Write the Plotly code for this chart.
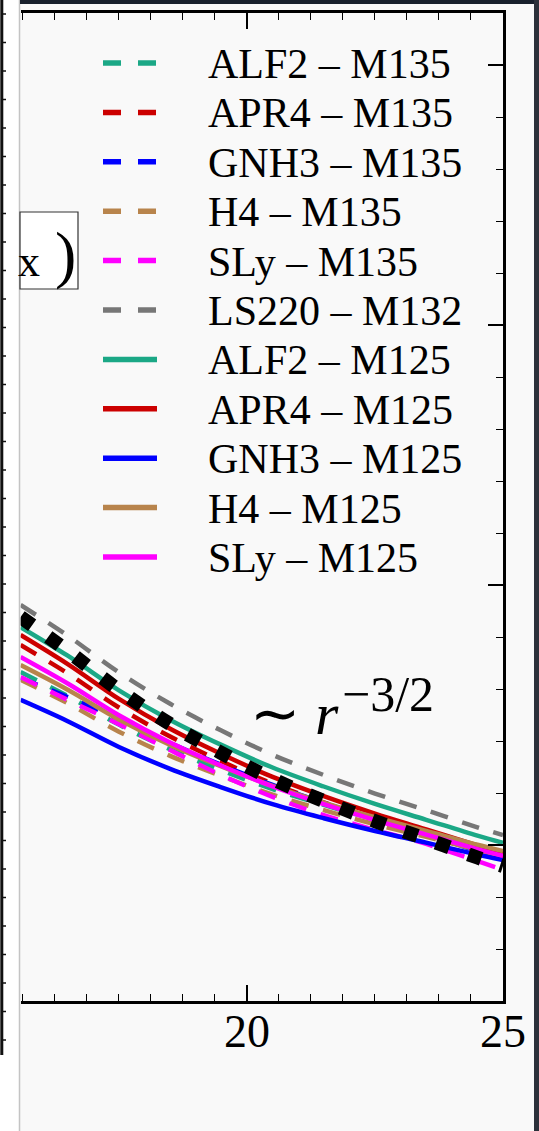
import plotly.graph_objects as go

W, H = 539, 1131

# radius samples (x axis)
r = [15.58, 16.5, 17.5, 18.5, 19.5, 20.5, 21.5, 22.5, 23.5, 24.5, 25.0]

# M135 (dashed) runs
alf2_m135 = [1.665, 1.573, 1.463, 1.368, 1.287, 1.215, 1.154, 1.098, 1.048, 0.997, 0.973]
apr4_m135 = [1.769, 1.660, 1.529, 1.417, 1.322, 1.236, 1.164, 1.098, 1.038, 0.978, 0.950]
gnh3_m135 = [1.642, 1.569, 1.485, 1.392, 1.308, 1.231, 1.162, 1.100, 1.042, 0.977, 0.950]
h4_m135 = [1.635, 1.545, 1.436, 1.343, 1.265, 1.194, 1.134, 1.080, 1.031, 0.981, 0.958]
sly_m135 = [1.646, 1.558, 1.465, 1.365, 1.269, 1.185, 1.115, 1.058, 1.004, 0.938, 0.904]
ls220_m132 = [1.923, 1.805, 1.664, 1.543, 1.440, 1.347, 1.269, 1.198, 1.134, 1.068, 1.038]
# M125 (solid) runs
alf2_m125 = [1.838, 1.728, 1.595, 1.481, 1.385, 1.298, 1.225, 1.158, 1.097, 1.036, 1.008]
apr4_m125 = [1.808, 1.696, 1.562, 1.447, 1.350, 1.262, 1.188, 1.121, 1.060, 0.998, 0.969]
gnh3_m125 = [1.558, 1.476, 1.377, 1.293, 1.222, 1.157, 1.103, 1.054, 1.009, 0.963, 0.942]
h4_m125 = [1.692, 1.597, 1.483, 1.385, 1.302, 1.227, 1.163, 1.107, 1.054, 1.001, 0.977]
sly_m125 = [1.723, 1.621, 1.499, 1.394, 1.305, 1.225, 1.157, 1.096, 1.040, 0.984, 0.958]
# ~ r^{-3/2} guide
guide_r32 = [1.877, 1.746, 1.596, 1.465, 1.354, 1.254, 1.169, 1.092, 1.023, 0.952, 0.919]

x_label_ticks = [20, 25]
x_long_ticks = [17.5, 22.5]
y_tickvals = [1, 2, 3, 4]

TEAL, RED, BLUE, BROWN, MAG, GRAY = "#1ba886", "#cc0000", "#0000ff", "#b8844c", "#ff00ff", "#777777"

series = [
    ("ALF2 – M135", alf2_m135, TEAL, "dash"),
    ("APR4 – M135", apr4_m135, RED, "dash"),
    ("GNH3 – M135", gnh3_m135, BLUE, "dash"),
    ("H4 – M135", h4_m135, BROWN, "dash"),
    ("SLy – M135", sly_m135, MAG, "dash"),
    ("LS220 – M132", ls220_m132, GRAY, "dash"),
    ("ALF2 – M125", alf2_m125, TEAL, "solid"),
    ("APR4 – M125", apr4_m125, RED, "solid"),
    ("GNH3 – M125", gnh3_m125, BLUE, "solid"),
    ("H4 – M125", h4_m125, BROWN, "solid"),
    ("SLy – M125", sly_m125, MAG, "solid"),
]

SERIF = "Liberation Serif, Times New Roman, serif"
BG = "#f9f9f9"

fig = go.Figure()
for name, ys, col, ds in series:
    fig.add_trace(go.Scatter(
        x=r, y=ys, mode="lines", name=name, line_shape="spline",
        line=dict(color=col, width=4.5, dash="18px,15px" if ds == "dash" else "solid"),
        showlegend=False))
fig.add_trace(go.Scatter(
    x=r, y=guide_r32, mode="lines", name="r^-3/2", line_shape="spline",
    line=dict(color="black", width=14, dash="14px,20px"), showlegend=False))


def px(x):
    return x / W


def py(y):
    return 1 - y / H


shapes = []
annotations = []
# left strip (neighbouring panel edge)
shapes.append(dict(type="rect", xref="paper", yref="paper", x0=0, x1=px(19.5), y0=0, y1=1,
                   fillcolor="white", line=dict(width=0), layer="below"))
shapes.append(dict(type="line", xref="paper", yref="paper", x0=px(19.5), x1=px(19.5), y0=0, y1=1,
                   line=dict(color="#c4c4c4", width=1.5)))
shapes.append(dict(type="line", xref="paper", yref="paper", x0=px(1.8), x1=px(1.8), y0=py(0), y1=py(1055),
                   line=dict(color="#111111", width=3)))
k = 0
while 14 + 28.5 * k < 1050:
    yy = 14 + 28.5 * k
    shapes.append(dict(type="line", xref="paper", yref="paper", x0=px(1.8), x1=px(6), y0=py(yy), y1=py(yy),
                       line=dict(color="#111111", width=1.5)))
    k += 1
# top and right dark borders
shapes.append(dict(type="rect", xref="paper", yref="paper", x0=px(20), x1=1, y0=py(4), y1=1,
                   fillcolor="#18202c", line=dict(width=0)))
shapes.append(dict(type="rect", xref="paper", yref="paper", x0=px(534), x1=1, y0=0, y1=1,
                   fillcolor="#2b303a", line=dict(width=0)))
# partial text box
shapes.append(dict(type="rect", xref="paper", yref="paper", x0=px(20), x1=px(78), y0=py(289), y1=py(212),
                   fillcolor="white", line=dict(color="#333333", width=1.2)))
annotations.append(dict(xref="paper", yref="paper", x=px(29), y=py(262), text="x", showarrow=False,
                        xanchor="center", yanchor="middle", font=dict(family=SERIF, size=44, color="black")))
annotations.append(dict(xref="paper", yref="paper", x=px(65), y=py(254), text=")", showarrow=False,
                        xanchor="center", yanchor="middle", font=dict(family=SERIF, size=64, color="black")))

# legend (manual)
for i, (name, ys, col, ds) in enumerate(series):
    yy = 63 + 49.4 * i
    shapes.append(dict(type="line", xref="paper", yref="paper", x0=px(103), x1=px(157), y0=py(yy), y1=py(yy),
                       line=dict(color=col, width=5.5, dash="18px,17px" if ds == "dash" else "solid")))
    annotations.append(dict(xref="paper", yref="paper", x=px(206), y=py(yy + 1), text=name, showarrow=False,
                            xanchor="left", yanchor="middle", font=dict(family=SERIF, size=42, color="black")))

# ~ r^{-3/2}
annotations.append(dict(xref="paper", yref="paper", x=px(248), y=py(714),
                        text="∼ <i>r</i>", showarrow=False,
                        xanchor="left", yanchor="middle", font=dict(family=SERIF, size=60, color="black")))
annotations.append(dict(xref="paper", yref="paper", x=px(340), y=py(694),
                        text="−3/2", showarrow=False,
                        xanchor="left", yanchor="middle", font=dict(family=SERIF, size=50, color="black")))

xdom = [20.6 / W, 503 / W]
fig.update_layout(
    width=W, height=H,
    margin=dict(l=0, r=0, t=0, b=0),
    paper_bgcolor=BG, plot_bgcolor=BG,
    showlegend=False,
    shapes=shapes, annotations=annotations,
    xaxis=dict(domain=xdom, range=[15.58, 25], automargin=False,
               showgrid=False, zeroline=False, showline=True, linecolor="black", linewidth=2.5,
               mirror="ticks", ticks="inside", ticklen=16, tickwidth=2, tickcolor="black",
               tickmode="array", tickvals=x_label_ticks, ticktext=[str(v) for v in x_label_ticks],
               tickfont=dict(family=SERIF, size=46, color="black"), ticklabelstandoff=-12,
               minor=dict(tickmode="linear", tick0=15, dtick=0.625, ticks="inside", ticklen=7,
                          tickwidth=1.2, tickcolor="black", showgrid=False)),
    xaxis2=dict(overlaying="x", anchor="y", side="bottom", range=[15.58, 25], automargin=False,
                showgrid=False, zeroline=False, showline=False, mirror="ticks",
                ticks="inside", ticklen=16, tickwidth=2, tickcolor="black",
                tickmode="array", tickvals=x_long_ticks, showticklabels=False),
    yaxis=dict(domain=[1 - 1001 / H, 1 - 13 / H], range=[0.4, 4.2], automargin=False, side="right",
               showgrid=False, zeroline=False, showline=True, linecolor="black", linewidth=2.5,
               ticks="inside", ticklen=15, tickwidth=2, tickcolor="black",
               tickmode="array", tickvals=y_tickvals, showticklabels=False,
               minor=dict(tickmode="linear", tick0=0, dtick=0.2, ticks="inside", ticklen=7,
                          tickwidth=1.2, tickcolor="black", showgrid=False)),
)

fig.write_html("out.html", config={"displayModeBar": False},
               post_script="document.body.style.margin='0';document.body.style.overflow='hidden';")
